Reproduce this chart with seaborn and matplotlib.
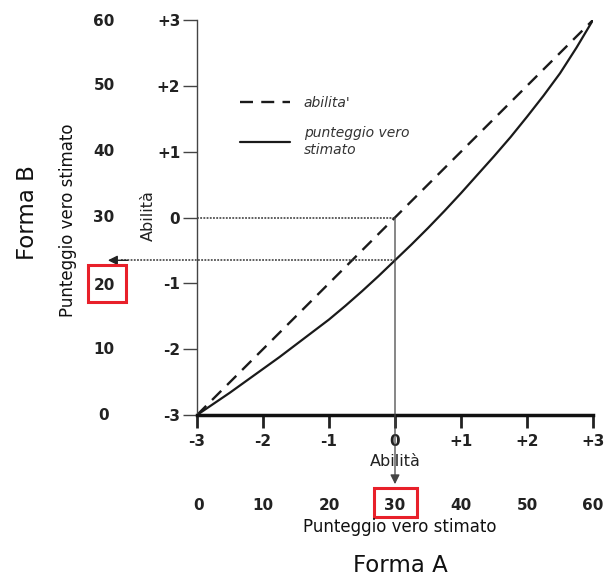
import matplotlib
matplotlib.use("Agg")
import matplotlib.pyplot as plt
import matplotlib.patches as mpatches
import seaborn as sns
import pandas as pd

# ---- data ----
theta = [-3, -2.75, -2.5, -2.25, -2, -1.75, -1.5, -1.25, -1, -0.75, -0.5, -0.25, 0,
         0.25, 0.5, 0.75, 1, 1.25, 1.5, 1.75, 2, 2.25, 2.5, 2.75, 3]
ability = list(theta)
true_score = [-3, -2.83, -2.66, -2.48, -2.3, -2.12, -1.93, -1.74, -1.55, -1.34, -1.12,
              -0.89, -0.65, -0.41, -0.16, 0.1, 0.37, 0.65, 0.93, 1.22, 1.53, 1.85,
              2.19, 2.58, 3.0]
ability_ticks = [-3, -2, -1, 0, 1, 2, 3]
ability_labels_x = ["-3", "-2", "-1", "0", "+1", "+2", "+3"]
ability_labels_y = ["-3", "-2", "-1", "0", "+1", "+2", "+3"]
score_labels = ["0", "10", "20", "30", "40", "50", "60"]
series_names = ["abilita'", "punteggio vero\nstimato"]
x_ref = 0.0
y_ref_ability = 0.0
y_ref_score = -0.65

sns.set_style("white")
plt.rcParams["font.family"] = ["DejaVu Sans"]

W, H = 605, 576
fig = plt.figure(figsize=(W / 100, H / 100), dpi=100)

def fx(px):
    return px / W

def fy(py):
    return 1 - py / H

ax = fig.add_axes([fx(197), fy(415), fx(593) - fx(197), fy(20) - fy(415)])

df = pd.DataFrame({
    "theta": theta * 2,
    "value": ability + true_score,
    "serie": [series_names[0]] * len(theta) + [series_names[1]] * len(theta),
})
sns.lineplot(data=df[df.serie == series_names[0]], x="theta", y="value", ax=ax,
             color="#1a1a1a", lw=1.7, label=series_names[0])
ax.lines[-1].set_dashes([5.5, 3.5])
sns.lineplot(data=df[df.serie == series_names[1]], x="theta", y="value", ax=ax,
             color="#1a1a1a", lw=1.6, label=series_names[1])

ax.set_xlim(-3, 3)
ax.set_ylim(-3, 3)
ax.set_xlabel("")
ax.set_ylabel("")

# spines
for s in ["top", "right"]:
    ax.spines[s].set_visible(False)
ax.spines["left"].set_color("#444444")
ax.spines["left"].set_linewidth(1.0)
ax.spines["bottom"].set_color("#111111")
ax.spines["bottom"].set_linewidth(2.5)

ax.set_xticks(ability_ticks)
ax.set_xticklabels(ability_labels_x, fontsize=11, fontweight="bold", color="#222222")
ax.set_yticks(ability_ticks)
ax.set_yticklabels(ability_labels_y, fontsize=11, fontweight="bold", color="#222222")
ax.tick_params(axis="x", direction="out", length=9, width=2, color="#222222", pad=5, bottom=True)
ax.tick_params(axis="y", direction="out", length=10, width=1, color="#444444", pad=2, left=True)

# reference lines
dotted = (0, (1.2, 0.9))
ax.plot([-3, x_ref], [y_ref_ability, y_ref_ability], color="#333333", lw=1.1, ls=dotted)
ax.plot([-4.15, x_ref], [y_ref_score, y_ref_score], color="#333333", lw=1.1, ls=dotted,
        clip_on=False)
ax.annotate("", xy=(-4.35, y_ref_score), xytext=(-4.05, y_ref_score), xycoords="data",
            annotation_clip=False,
            arrowprops=dict(arrowstyle="-|>", color="#222222", lw=1.0,
                            mutation_scale=14, shrinkA=0, shrinkB=0))
ax.annotate("", xy=(x_ref, -4.05), xytext=(x_ref, y_ref_ability), xycoords="data",
            annotation_clip=False,
            arrowprops=dict(arrowstyle="-|>", color="#444444", lw=0.9,
                            mutation_scale=14, shrinkA=0, shrinkB=0))

# legend
leg = ax.legend(loc="upper left", bbox_to_anchor=(0.077, 0.84), frameon=False,
                handlelength=3.6, handletextpad=1.0, labelspacing=1.2,
                prop=dict(family="DejaVu Sans", style="italic", size=10))
for t in leg.get_texts():
    t.set_color("#333333")

# secondary score scales
ypix = [415, 350, 285, 218, 152, 85, 22]
for lab, py in zip(score_labels, ypix):
    fig.text(fx(104), fy(py), lab, ha="center", va="center", fontsize=11,
             fontweight="bold", color="#222222")
xpix = [199, 263, 329, 395, 461, 527, 593]
for lab, px in zip(score_labels, xpix):
    fig.text(fx(px), fy(505), lab, ha="center", va="center", fontsize=11,
             fontweight="bold", color="#222222")

# axis titles
fig.text(fx(395), fy(462), "Abilità", ha="center", va="center", fontsize=11.5,
         color="#222222")
fig.text(fx(400), fy(527), "Punteggio vero stimato", ha="center", va="center",
         fontsize=12, color="#111111")
fig.text(fx(400), fy(565), "Forma A", ha="center", va="center", fontsize=16.5, color="#111111")
fig.text(fx(148), fy(216), "Abilità", ha="center", va="center", rotation=90,
         fontsize=11.5, color="#222222")
fig.text(fx(68), fy(220), "Punteggio vero stimato", ha="center", va="center", rotation=90,
         fontsize=12, color="#111111")
fig.text(fx(28), fy(213), "Forma B", ha="center", va="center", rotation=90,
         fontsize=16.5, color="#111111")

# red highlight boxes
for (x0, y0, x1, y1) in [(88, 265, 126, 302), (374, 488, 417, 517)]:
    fig.patches.append(mpatches.Rectangle((fx(x0), fy(y1)), fx(x1) - fx(x0), fy(y0) - fy(y1),
                                          transform=fig.transFigure, fill=False,
                                          edgecolor="#e8202a", lw=2.2))

fig.savefig("out.png", dpi=100)
